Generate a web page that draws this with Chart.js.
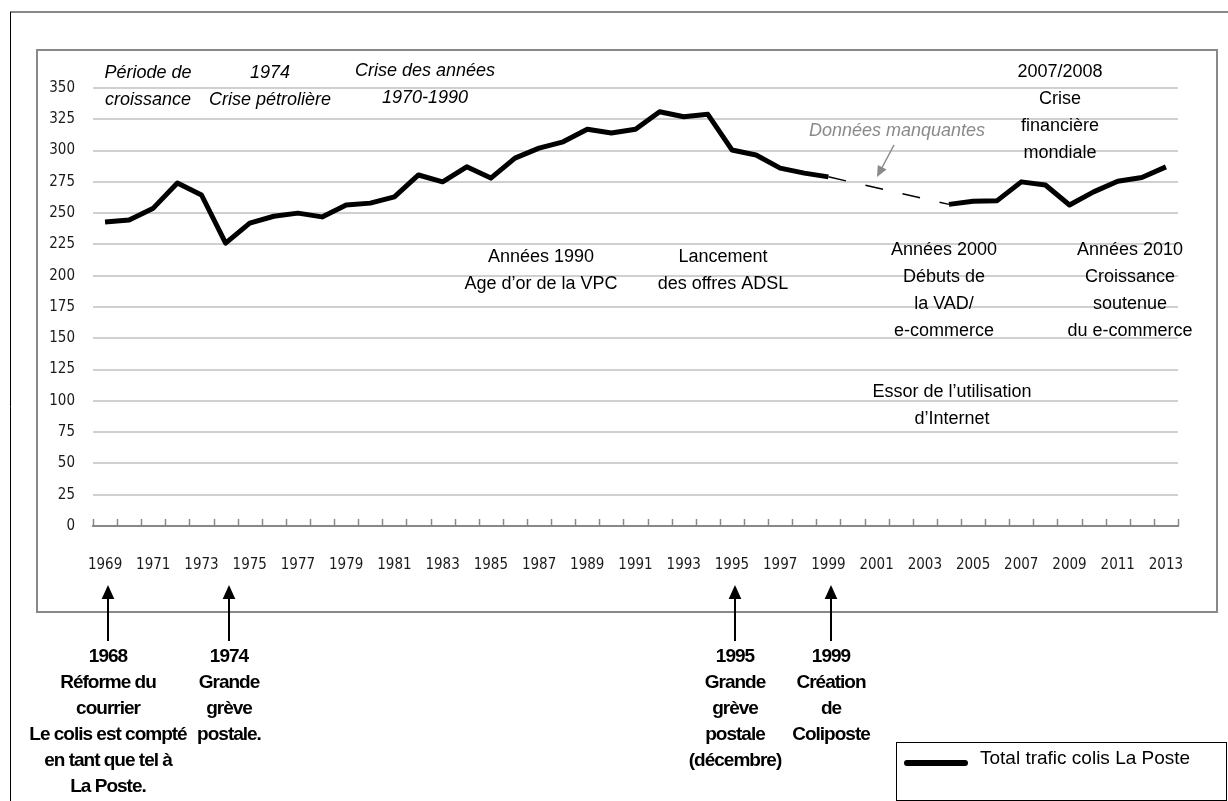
<!DOCTYPE html>
<html>
<head>
<meta charset="utf-8">
<script src="https://cdn.jsdelivr.net/npm/chart.js@4/dist/chart.umd.min.js"></script>
<style>
  html, body { margin: 0; padding: 0; background: #fff; }
  #graph { display: block; }
</style>
</head>
<body>
<canvas id="graph" width="1228" height="801"></canvas>
<script>
// années (axe des x)
const annees = ['1969','1970','1971','1972','1973','1974','1975','1976','1977','1978',
  '1979','1980','1981','1982','1983','1984','1985','1986','1987','1988',
  '1989','1990','1991','1992','1993','1994','1995','1996','1997','1998',
  '1999','2000','2001','2002','2003','2004','2005','2006','2007','2008',
  '2009','2010','2011','2012','2013']

// trafic colis La Poste (2000-2003 : données manquantes)
const traficColis = [243, 244.5, 254, 274, 264.5, 226, 242, 247.5, 250, 247,
  256.5, 258, 263, 280.5, 275, 287, 278, 294, 302, 307,
  317, 314, 317, 331, 327, 329, 300.5, 296.5, 286, 282,
  279, null, null, null, null, 257, 259.5, 260, 275, 272.5,
  256.5, 267, 275.5, 278.5, 287]

const yMin = 0
const yMax = 350
const yPas = 25

const nomSerie = 'Total trafic colis La Poste'

// textes dans le graphique
const notesHaut = [
  { lignes: ['Période de', 'croissance'], x: 148, y: 73, italique: true },
  { lignes: ['1974', 'Crise pétrolière'], x: 270, y: 73, italique: true },
  { lignes: ['Crise des années', '1970-1990'], x: 425, y: 71, italique: true },
  { lignes: ['Années 1990', 'Age d’or de la VPC'], x: 541, y: 257 },
  { lignes: ['Lancement', 'des offres ADSL'], x: 723, y: 257 },
  { lignes: ['2007/2008', 'Crise', 'financière', 'mondiale'], x: 1060, y: 72 },
  { lignes: ['Années 2000', 'Débuts de', 'la VAD/', 'e-commerce'], x: 944, y: 250 },
  { lignes: ['Années 2010', 'Croissance', 'soutenue', 'du e-commerce'], x: 1130, y: 250 },
  { lignes: ['Essor de l’utilisation', 'd’Internet'], x: 952, y: 392 }
]

// événements sous le graphique (flèches)
const notesBas = [
  { annee: '1969', lignes: ['1968', 'Réforme du', 'courrier', 'Le colis est compté', 'en tant que tel à', 'La Poste.'] },
  { annee: '1974', lignes: ['1974', 'Grande', 'grève', 'postale.'] },
  { annee: '1995', lignes: ['1995', 'Grande', 'grève', 'postale', '(décembre)'] },
  { annee: '1999', lignes: ['1999', 'Création', 'de', 'Coliposte'] }
]

const policeAxe = '"DejaVu Sans Condensed", "DejaVu Sans", sans-serif'
const policeTexte = '"Liberation Sans", Arial, sans-serif'

function fleche(ctx, x1, y1, x2, y2, couleur, larg, tete) {
  const a = Math.atan2(y2 - y1, x2 - x1)
  ctx.save()
  ctx.strokeStyle = couleur
  ctx.fillStyle = couleur
  ctx.lineWidth = larg
  ctx.beginPath()
  ctx.moveTo(x1, y1)
  ctx.lineTo(x2 - Math.cos(a) * tete * 0.8, y2 - Math.sin(a) * tete * 0.8)
  ctx.stroke()
  ctx.beginPath()
  ctx.moveTo(x2, y2)
  ctx.lineTo(x2 - Math.cos(a) * tete + Math.sin(a) * tete * 0.45, y2 - Math.sin(a) * tete - Math.cos(a) * tete * 0.45)
  ctx.lineTo(x2 - Math.cos(a) * tete - Math.sin(a) * tete * 0.45, y2 - Math.sin(a) * tete + Math.cos(a) * tete * 0.45)
  ctx.closePath()
  ctx.fill()
  ctx.restore()
}

const decor = {
  id: 'decor',
  beforeDraw(chart) {
    const ctx = chart.ctx
    ctx.save()
    ctx.fillStyle = '#fff'
    ctx.fillRect(0, 0, chart.width, chart.height)
    // cadre extérieur
    ctx.strokeStyle = '#888'
    ctx.lineWidth = 2
    ctx.beginPath()
    ctx.moveTo(10, 12)
    ctx.lineTo(1228, 12)
    ctx.stroke()
    ctx.strokeStyle = '#000'
    ctx.lineWidth = 1
    ctx.beginPath()
    ctx.moveTo(10.5, 12)
    ctx.lineTo(10.5, 801)
    ctx.stroke()
    // cadre du graphique
    ctx.strokeStyle = '#888'
    ctx.lineWidth = 2
    ctx.strokeRect(37, 50, 1180, 562)
    ctx.restore()
  },
  afterDraw(chart) {
    const ctx = chart.ctx
    const xs = chart.scales.x
    ctx.save()
    // petites graduations vers le haut
    const n = annees.length
    ctx.strokeStyle = '#888'
    ctx.lineWidth = 1.5
    for (let i = 0; i <= n; i++) {
      const x = Math.round(xs.left + i * xs.width / n) + 0.5
      ctx.beginPath()
      ctx.moveTo(x, xs.top - 7)
      ctx.lineTo(x, xs.top)
      ctx.stroke()
    }

    // textes
    ctx.textAlign = 'center'
    ctx.textBaseline = 'middle'
    ctx.fillStyle = '#000'
    notesHaut.forEach(n => {
      ctx.font = (n.italique ? 'italic ' : '') + '18px ' + policeTexte
      n.lignes.forEach((l, i) => ctx.fillText(l, n.x, n.y + i * 27))
    })

    // données manquantes
    ctx.fillStyle = '#8a8a8a'
    ctx.font = 'italic 18px ' + policeTexte
    ctx.fillText('Données manquantes', 897, 131)
    fleche(ctx, 894, 145, 877, 177, '#8a8a8a', 1.5, 11)

    // flèches du bas
    ctx.fillStyle = '#000'
    ctx.font = 'bold 19px ' + policeTexte
    ctx.letterSpacing = '-1px'
    notesBas.forEach(n => {
      const x = Math.round(xs.getPixelForValue(annees.indexOf(n.annee))) + 3
      fleche(ctx, x, 641, x, 585, '#000', 2, 14)
      n.lignes.forEach((l, i) => ctx.fillText(l, x, 657 + i * 26))
    })
    ctx.letterSpacing = '0px'

    // légende
    ctx.strokeStyle = '#000'
    ctx.lineWidth = 1
    ctx.strokeRect(896.5, 742.5, 330, 58)
    ctx.lineWidth = 6
    ctx.lineCap = 'round'
    ctx.beginPath()
    ctx.moveTo(907, 763)
    ctx.lineTo(965, 763)
    ctx.stroke()
    ctx.textAlign = 'left'
    ctx.font = '19px ' + policeTexte
    ctx.fillText(nomSerie, 980, 759)
    ctx.restore()
  }
}

// segment qui enjambe les années manquantes
const trou = c => c.p0.skip || c.p1.skip

new Chart(document.getElementById('graph'), {
  type: 'line',
  data: {
    labels: annees,
    datasets: [{
      label: nomSerie,
      data: traficColis,
      borderColor: '#000',
      borderWidth: 5,
      pointRadius: 0,
      tension: 0,
      spanGaps: true,
      borderJoinStyle: 'round',
      segment: {
        borderWidth: c => trou(c) ? 1.5 : undefined,
        borderDash: c => trou(c) ? [18, 20] : undefined
      }
    }]
  },
  options: {
    responsive: false,
    animation: false,
    layout: { padding: { top: 88, right: 50, left: 0, bottom: 0 } },
    plugins: { legend: { display: false }, tooltip: { enabled: false } },
    scales: {
      x: {
        offset: true,
        grid: { display: false, offset: true },
        border: { display: true, color: '#888', width: 2 },
        ticks: {
          autoSkip: false, maxRotation: 0, minRotation: 0, padding: 22,
          color: '#1a1a1a', font: { family: policeAxe, size: 15 },
          callback: (v, i) => i % 2 === 0 ? annees[i] : ''
        },
        afterFit: s => { s.height = 275 }
      },
      y: {
        min: yMin, max: yMax,
        ticks: { stepSize: yPas, padding: 18, color: '#1a1a1a', font: { family: policeAxe, size: 15 } },
        grid: { color: c => c.tick.value === 0 ? 'rgba(0,0,0,0)' : '#d0d0d0', lineWidth: 2, drawTicks: false },
        border: { display: false },
        afterFit: s => { s.width = 93 }
      }
    }
  },
  plugins: [decor]
})
</script>
</body>
</html>
